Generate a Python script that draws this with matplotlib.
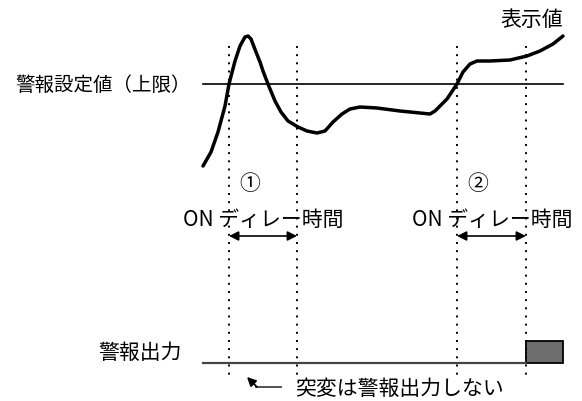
import matplotlib
matplotlib.use('Agg')
import matplotlib.pyplot as plt
from matplotlib.patches import Rectangle

plt.rcParams['font.family'] = ['Noto Sans CJK JP', 'DejaVu Sans']

# Data (diagram drawn in pixel units, y grows downward)
pv_x = [203, 211, 218, 225, 229, 235, 240, 245, 248, 251, 256, 260, 263, 268,
        275, 281, 288, 298, 307, 317, 325, 333, 342, 350, 360, 377, 400, 420,
        430, 435, 440, 447, 457, 463, 470, 477, 490, 510, 527, 540, 553, 563]
pv_y = [167, 153, 133, 107, 85, 62, 47, 38, 37, 40, 53, 63, 72, 85,
        102, 113, 122, 128, 132, 134, 132, 123, 115, 110, 108, 109, 112, 114,
        115, 112, 107, 100, 85, 73, 65, 62, 62, 61, 57, 52, 45, 37]
limit_y = 85
line_x = [203, 563]
delay_start = [229, 457]
delay_end = [297, 526]
delay_labels = ['①', '②']
output_y = 364
output_on_x = [526, 563]
output_on_top = 342

fig = plt.figure(figsize=(5.82, 4.02), dpi=100)
ax = fig.add_axes([0, 0, 1, 1])
ax.set_xlim(0, 582)
ax.set_ylim(402, 0)
ax.axis('off')

# dotted time markers
for x in delay_start + delay_end:
    ax.plot([x, x], [47, 376], color='black', lw=1.4, linestyle=(0, (1, 3.2)))

# alarm setting line
ax.plot(line_x, [limit_y, limit_y], color='black', lw=1.2)

# process value curve
ax.plot(pv_x, pv_y, color='black', lw=2.5, solid_joinstyle='round',
        solid_capstyle='round')

ax.text(15, limit_y, '警報設定値（上限）', fontsize=14, va='center', ha='left')
ax.text(563, 20, '表示値', fontsize=15, va='center', ha='right')

# ON delay arrows
for x0, x1, lab, tx in zip(delay_start, delay_end, delay_labels, [183, 412]):
    ax.annotate('', xy=(x0, 237), xytext=(x1, 237),
                arrowprops=dict(arrowstyle='<|-|>', color='black', lw=1.2,
                                mutation_scale=14, shrinkA=0, shrinkB=0))
    ax.text(x0 + 21, 184, lab, fontsize=15, va='center', ha='center')
    ax.text(tx, 220, 'ON ディレー時間', fontsize=15, va='center', ha='left')

# alarm output
ax.plot([line_x[0], output_on_x[0]], [output_y, output_y], color='#444444', lw=1.6)
ax.add_patch(Rectangle((output_on_x[0], output_on_top),
                       output_on_x[1] - output_on_x[0], output_y - output_on_top,
                       facecolor='#6e6e6e', edgecolor='black', lw=1.3))
ax.text(182, 353, '警報出力', fontsize=15, va='center', ha='right')

# note arrow
ax.plot([281, 256], [388, 388], color='#444444', lw=1.3)
ax.annotate('', xy=(247, 378), xytext=(257, 388),
            arrowprops=dict(arrowstyle='-|>', color='black', lw=1.3,
                            mutation_scale=13, shrinkA=0, shrinkB=0))
ax.text(295, 389, '突変は警報出力しない', fontsize=15, va='center', ha='left')

fig.savefig('out.png', dpi=100)
